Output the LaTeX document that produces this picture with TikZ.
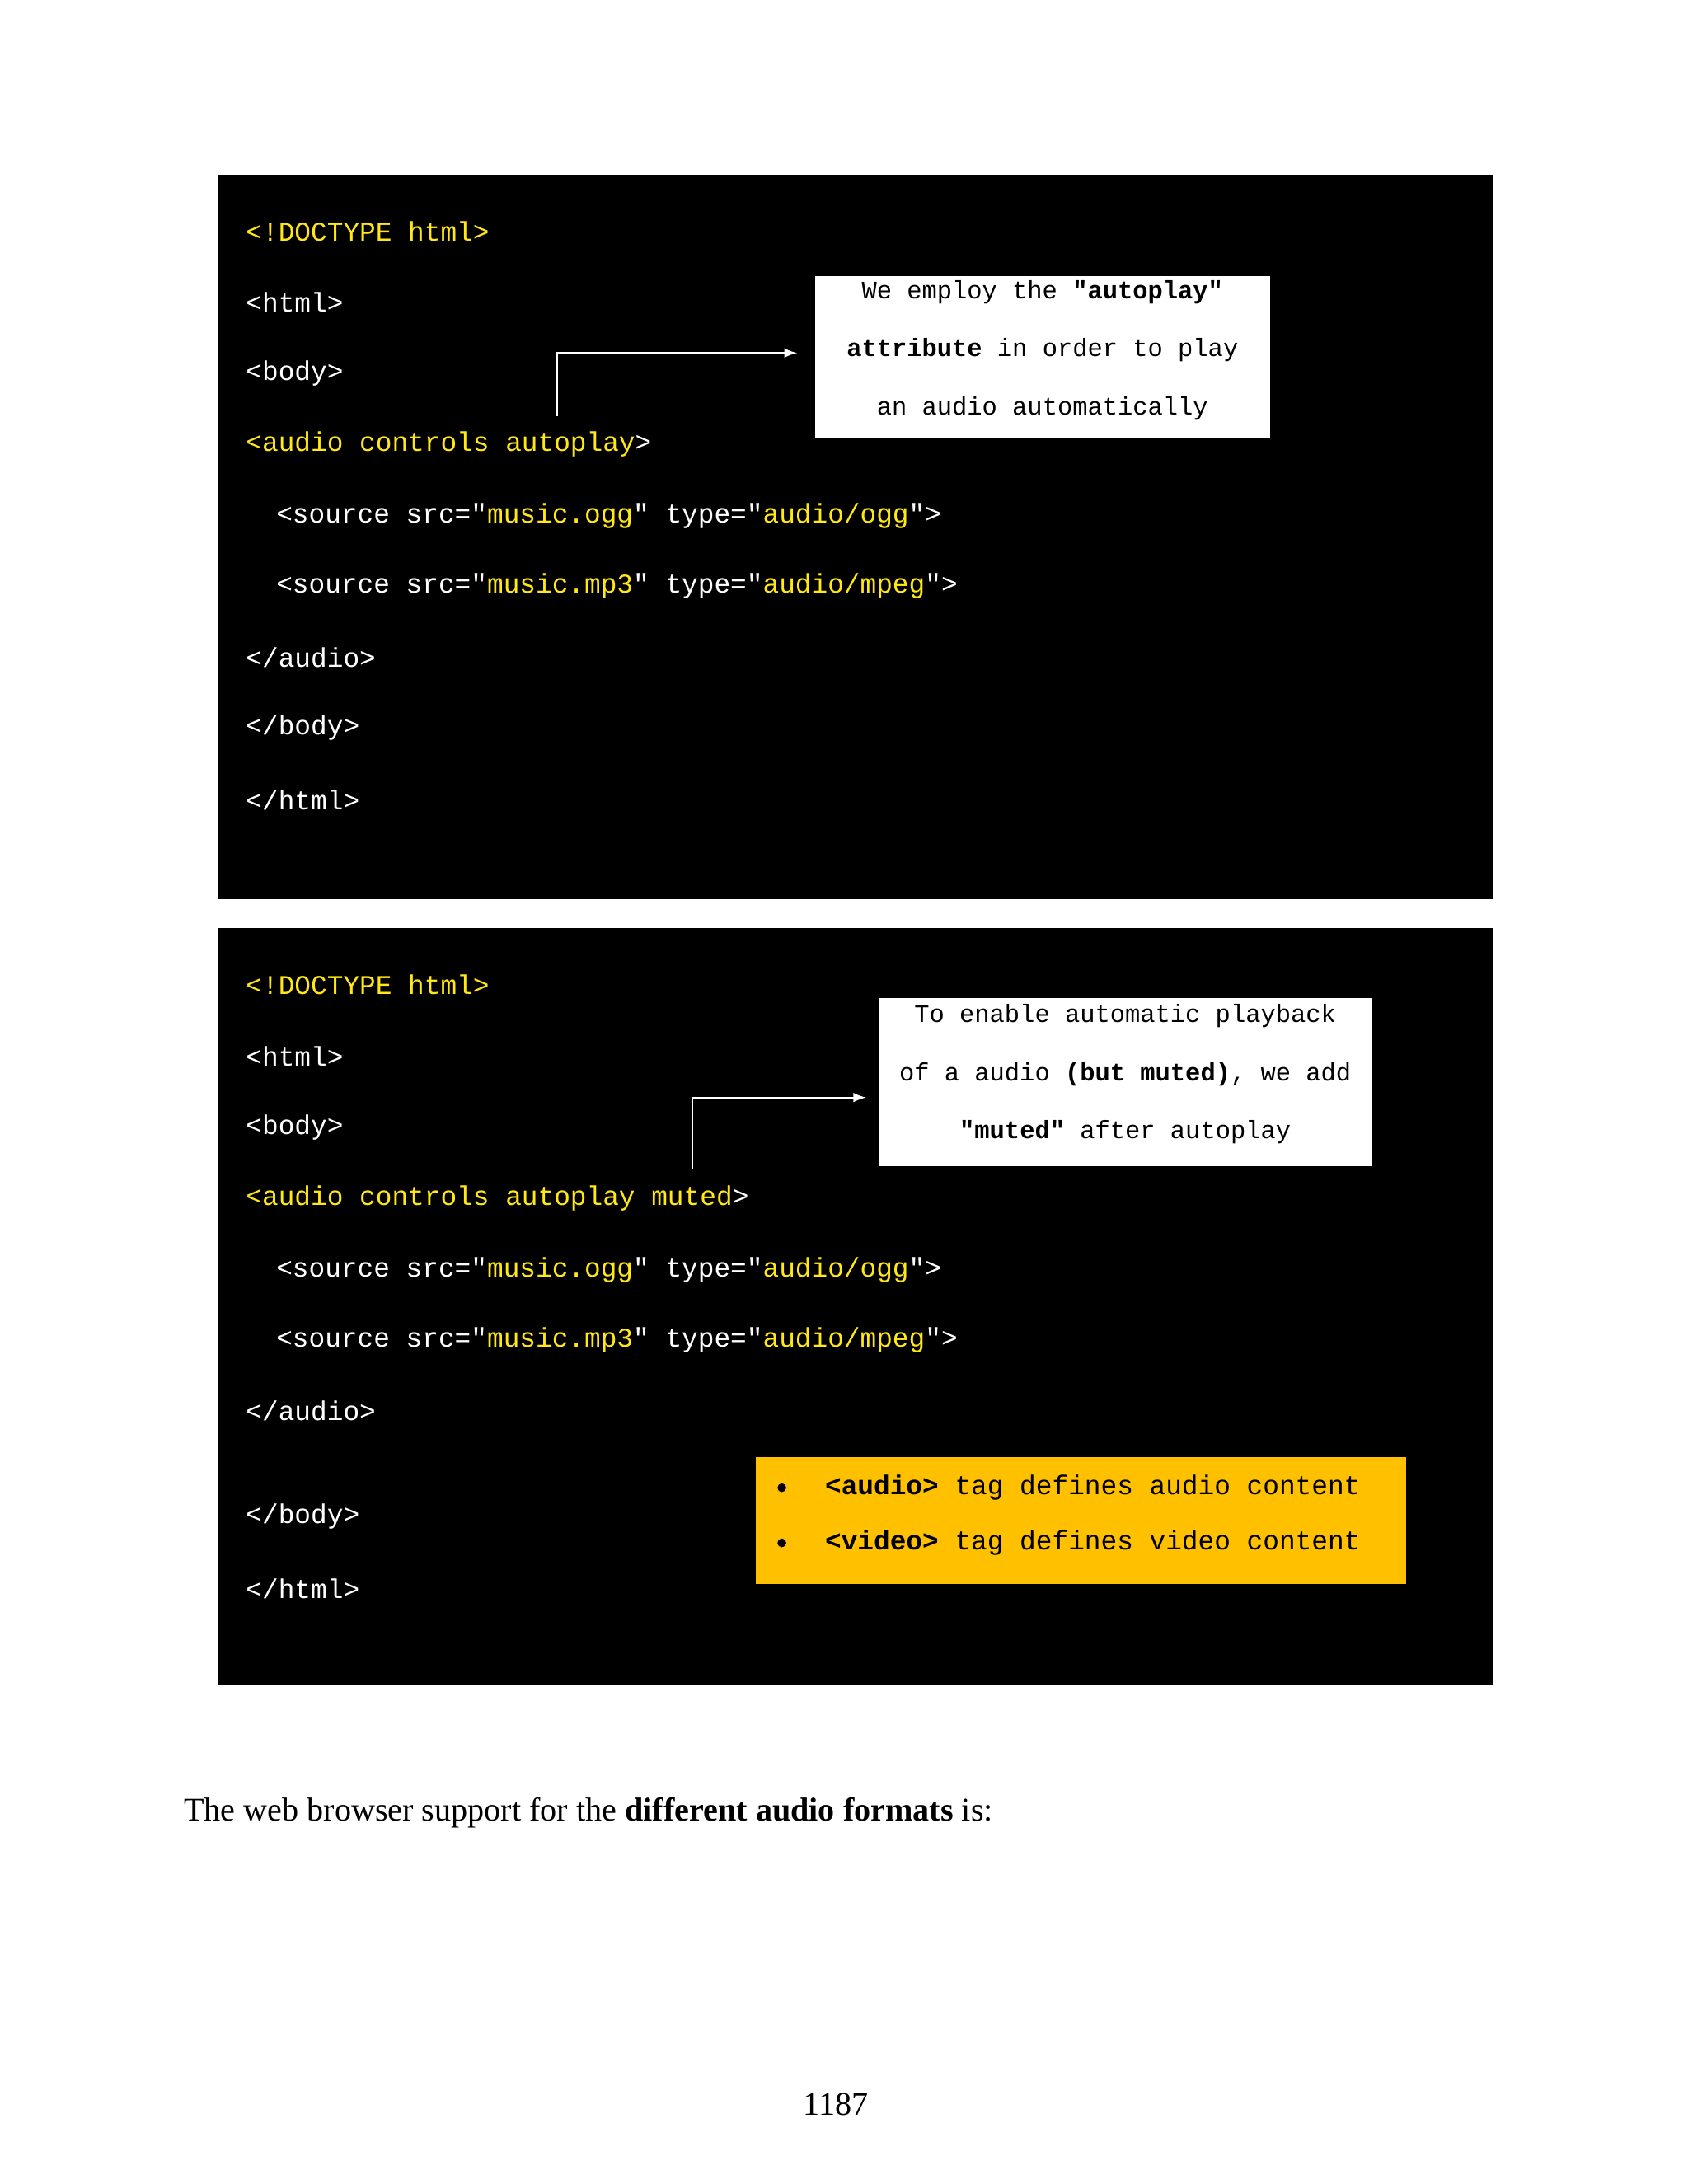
\documentclass[tikz,border=0pt]{standalone}
\usepackage{fontspec}
\setmainfont{Liberation Serif}
\newfontfamily\codefont{Liberation Mono}
\usetikzlibrary{positioning}
\definecolor{codeyellow}{RGB}{255,232,20}
\definecolor{notebg}{RGB}{255,192,0}
\tikzset{
  code/.style={anchor=west, inner sep=0pt, text=white, font=\codefont\fontsize{9.8}{12}\selectfont},
  note/.style={inner sep=0pt, text=black, font=\codefont\fontsize{9.1}{21}\selectfont, align=center},
  panel/.style={fill=black, draw=none},
  callout/.style={->, >=latex, white, semithick}
}
\newcommand{\yl}[1]{\textcolor{codeyellow}{#1}}
\begin{document}
\begin{tikzpicture}[x=0.5pt, y=-0.5pt]
  \useasboundingbox (0,0) rectangle (1224,1584);
  \fill[white] (0,0) rectangle (1224,1584);
  % first panel
  \fill[panel] (158,127) rectangle (1083,652);
  \node[code] (a1) at (178,168) {\yl{<!DOCTYPE html>}};
  \node[code] (a2) at (178,219) {<html>};
  \node[code] (a3) at (178,271) {<body>};
  \node[code] (a4) at (178,322) {\yl{<audio controls autoplay}>};
  \node[code] (a5) at (200,374) {<source src="\yl{music.ogg}" type="\yl{audio/ogg}">};
  \node[code] (a6) at (200,425) {<source src="\yl{music.mp3}" type="\yl{audio/mpeg}">};
  \node[code] (a7) at (178,477) {</audio>};
  \node[code] (a8) at (178,528) {</body>};
  \node[code] (a9) at (178,580) {</html>};
  \fill[white] (591,200) rectangle (921,318);
  \node[note] (n1) at (756,254) {We employ the \textbf{"autoplay"}\\\textbf{attribute} in order to play\\an audio automatically};
  \coordinate (s1) at (404,302);
  \coordinate (t1) at (578,256);
  \draw[callout] (s1) |- (t1);
  % second panel
  \fill[panel] (158,673) rectangle (1083,1222);
  \node[code] (b1) at (178,714) {\yl{<!DOCTYPE html>}};
  \node[code] (b2) at (178,766) {<html>};
  \node[code] (b3) at (178,818) {<body>};
  \node[code] (b4) at (178,869) {\yl{<audio controls autoplay muted}>};
  \node[code] (b5) at (200,921) {<source src="\yl{music.ogg}" type="\yl{audio/ogg}">};
  \node[code] (b6) at (200,972) {<source src="\yl{music.mp3}" type="\yl{audio/mpeg}">};
  \node[code] (b7) at (178,1023) {</audio>};
  \node[code] (b8) at (178,1100) {</body>};
  \node[code] (b9) at (178,1152) {</html>};
  \fill[white] (638,724) rectangle (995,846);
  \node[note] (n2) at (816,779) {To enable automatic playback\\of a audio \textbf{(but muted)}, we add\\\textbf{"muted"} after autoplay};
  \coordinate (s2) at (502,848);
  \coordinate (t2) at (628,796);
  \draw[callout] (s2) |- (t2);
  \fill[notebg] (548,1057) rectangle (1020,1149);
  \node[code, text=black] (c1) at (598,1079) {\textbf{<audio>} tag defines audio content};
  \node[code, text=black] (c2) at (598,1119) {\textbf{<video>} tag defines video content};
  \fill[black] (567,1079) circle (3.2);
  \fill[black] (567,1119) circle (3.2);
  % text below
  \node[anchor=west, inner sep=0pt, font=\fontsize{12}{14}\selectfont] (txt) at (133,1315) {The web browser support for the \textbf{different audio formats} is:};
  \node[inner sep=0pt, font=\fontsize{12}{14}\selectfont] (pg) at (606,1526) {1187};
\end{tikzpicture}
\end{document}
